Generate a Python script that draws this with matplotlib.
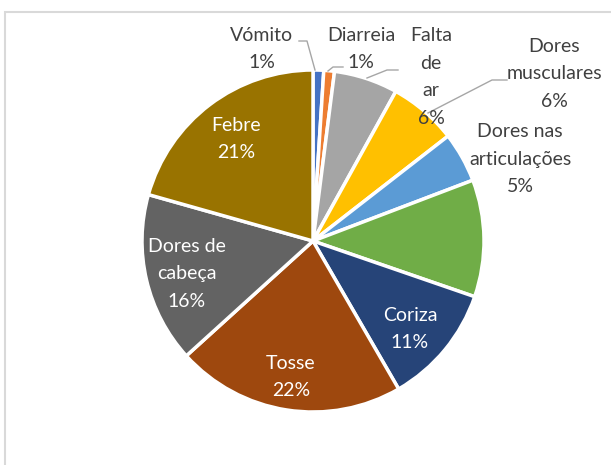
import matplotlib.pyplot as plt
from matplotlib.patches import Rectangle

W, H = 611, 465
dpi = 100

# data (labels show share of total)
sintomas = ['Vómito', 'Diarreia', 'Falta\nde\nar', 'Dores\nmusculares', 'Dores nas\narticulações',
            '', 'Coriza', 'Tosse', 'Dores de\ncabeça', 'Febre']
valores = [1, 1, 6, 6.4, 4.7, 11, 11.3, 21.5, 16, 20.5]
cores = ['#4472C4', '#ED7D31', '#A5A5A5', '#FFC000', '#5B9BD5',
         '#70AD47', '#264478', '#9E480E', '#636363', '#997300']

# label layout (pixel positions in the picture)
cx, cy, R = 313, 241, 171
label_px = [(262, 49), (361, 49), (431, 77), (554, 74), (520, 159),
            None, (410, 329), (291, 377), (187, 274), (236, 139)]
inside = [False, False, False, False, False, False, True, True, True, True]
leaders = {
    0: [(299, 41), (307, 41), (315, 70)],
    1: [(343, 67), (333, 67), (328, 71)],
    2: [(398, 70), (387, 70), (367, 78)],
    3: [(507, 80), (492, 80), (428, 113)],
}


def px(x, y):
    return (x - cx) / R, (cy - y) / R


total = sum(valores)

fig = plt.figure(figsize=(W / dpi, H / dpi), dpi=dpi)
ax = fig.add_axes([0, 0, 1, 1])
ax.pie(valores, colors=cores, startangle=90, counterclock=False,
       wedgeprops=dict(edgecolor='white', linewidth=2.5))
ax.set_xlim(px(0, 0)[0], px(W, 0)[0])
ax.set_ylim(px(0, H)[1], px(0, 0)[1])
ax.axis('off')

for i, (nome, v) in enumerate(zip(sintomas, valores)):
    if label_px[i] is None:
        continue
    x, y = px(*label_px[i])
    color = 'white' if inside[i] else '#404040'
    ax.text(x, y, '{}\n{:.0f}%'.format(nome, v / total * 100), ha='center', va='center',
            color=color, fontsize=14, family='Lato', linespacing=1.75)

for pts in leaders.values():
    xs, ys = zip(*[px(*p) for p in pts])
    ax.plot(xs, ys, color='#A6A6A6', lw=1)

fig.patches.append(Rectangle((5 / W, -0.05), 1.1, (H - 12) / H + 0.05,
                             transform=fig.transFigure, fill=False,
                             ec='#D9D9D9', lw=1.5))

plt.savefig('out.png', dpi=dpi)
